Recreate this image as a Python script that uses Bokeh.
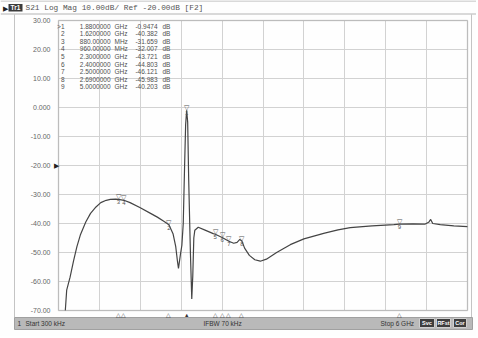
from bokeh.plotting import figure
from bokeh.models import Range1d, FixedTicker, Grid, BoxAnnotation, ColumnDataSource
from bokeh.embed import file_html
from bokeh.resources import INLINE
from bokeh.core.properties import value

# ---------------- data ----------------
freq_ghz = [0.10, 0.12, 0.17, 0.22, 0.27, 0.32, 0.40, 0.47, 0.55, 0.62, 0.70, 0.76, 0.84,
            0.88, 0.96, 1.05, 1.20, 1.35, 1.45, 1.55, 1.62, 1.68, 1.72, 1.745, 1.76, 1.79,
            1.81, 1.83, 1.85, 1.865, 1.88, 1.895, 1.91, 1.935, 1.955, 1.97, 1.985, 2.00,
            2.05, 2.15, 2.27, 2.30, 2.40, 2.50, 2.57, 2.62, 2.66, 2.69, 2.73, 2.80, 2.88,
            2.96, 3.05, 3.20, 3.40, 3.60, 3.89, 4.10, 4.28, 4.60, 4.92, 5.00, 5.20, 5.38,
            5.43, 5.46, 5.49, 5.60, 5.80, 6.00]
s21_db = [-70.0, -63.0, -58.5, -53.0, -48.0, -44.0, -39.5, -36.5, -34.3, -32.8, -32.0, -31.7, -31.6,
          -31.66, -32.0, -32.8, -34.6, -36.5, -37.8, -39.3, -40.4, -43.5, -48.0, -53.0, -55.5, -50.5,
          -47.5, -40.0, -20.0, -6.0, -0.95, -5.0, -25.0, -50.0, -66.0, -58.0, -45.0, -42.3,
          -41.3, -42.3, -43.5, -43.7, -44.8, -46.1, -46.8, -46.5, -45.5, -46.0, -48.5, -51.0, -52.5,
          -53.0, -52.3, -50.0, -47.3, -45.3, -43.4, -42.2, -41.4, -40.8, -40.4, -40.2, -40.1, -40.2,
          -39.6, -38.6, -40.0, -40.4, -40.8, -41.1]

marker_ids = ["1", "2", "3", "4", "5", "6", "7", "8", "9"]
marker_freq_ghz = [1.88, 1.62, 0.88, 0.96, 2.30, 2.40, 2.50, 2.69, 5.00]
marker_db = [-0.9474, -40.382, -31.659, -32.007, -43.721, -44.803, -46.121, -45.983, -40.203]
marker_freq_text = ["1.8800000", "1.6200000", "880.00000", "960.00000", "2.3000000",
                    "2.4000000", "2.5000000", "2.6900000", "5.0000000"]
marker_unit = ["GHz", "GHz", "MHz", "MHz", "GHz", "GHz", "GHz", "GHz", "GHz"]
marker_val_text = ["-0.9474", "-40.382", "-31.659", "-32.007", "-43.721",
                   "-44.803", "-46.121", "-45.983", "-40.203"]

x_min, x_max = 0.0, 6.0          # GHz (Start 300 kHz .. Stop 6 GHz)
y_min, y_max = -70.0, 30.0       # dB
y_ticks = [30, 20, 10, 0, -10, -20, -30, -40, -50, -60, -70]
y_tick_labels = ["30.00", "20.00", "10.00", "0.000", "-10.00", "-20.00",
                 "-30.00", "-40.00", "-50.00", "-60.00", "-70.00"]
x_grid = [0.0, 0.6, 1.2, 1.8, 2.4, 3.0, 3.6, 4.2, 4.8, 5.4, 6.0]
ref_level = -20

trace_name = "Tr1"
title_text = "S21 Log Mag 10.00dB/ Ref -20.00dB [F2]"
channel_text = "1"
start_text = "Start 300 kHz"
ifbw_text = "IFBW 70 kHz"
stop_text = "Stop 6 GHz"
status_boxes = ["Svc", "RFst", "Cor"]

# ---------------- page geometry (pixels) ----------------
W, H = 476, 336
PLOT_L, PLOT_R, PLOT_T, PLOT_B = 58, 467, 20, 310
px_per_x = (PLOT_R - PLOT_L) / (x_max - x_min)
px_per_y = (PLOT_B - PLOT_T) / (y_max - y_min)


def gx(px):
    return x_min + (px - PLOT_L) / px_per_x


def gy(py):
    return y_max - (py - PLOT_T) / px_per_y


p = figure(width=W, height=H, x_range=Range1d(gx(0), gx(W)), y_range=Range1d(gy(H), gy(0)),
           output_backend="svg", toolbar_location=None,
           x_axis_location=None, y_axis_location=None,
           min_border_left=0, min_border_right=0, min_border_top=0, min_border_bottom=0)
p.title.visible = False
p.grid.visible = False
p.outline_line_color = None
p.background_fill_color = "#fefefe"
p.border_fill_color = "#fefefe"

# display-area frame
p.segment(x0=[gx(14), gx(471)], y0=[gy(14), gy(14)], x1=[gx(14), gx(471)], y1=[gy(317), gy(317)],
          line_color="#c4c4c4", line_width=1)

# grid limited to the measurement area
p.add_layout(Grid(dimension=0, ticker=FixedTicker(ticks=x_grid), bounds=(x_min, x_max),
                  cross_bounds=(y_min, y_max), grid_line_color="#d2d2d2", grid_line_width=1))
p.add_layout(Grid(dimension=1, ticker=FixedTicker(ticks=y_ticks), bounds=(y_min, y_max),
                  cross_bounds=(x_min, x_max), grid_line_color="#d2d2d2", grid_line_width=1))
p.add_layout(BoxAnnotation(left=x_min, right=x_max, bottom=y_min, top=y_max,
                           fill_alpha=0, line_color="#8c8c8c", line_width=1.5))

# y tick labels and reference-level arrow
p.text(x=[gx(50)] * len(y_ticks), y=y_ticks, text=y_tick_labels, text_align="right",
       text_baseline="middle", text_font=value("Liberation Sans"), text_font_size="7px",
       text_color="#666666")
p.text(x=[gx(55.5)], y=[ref_level], text=["▶"], text_align="center", text_baseline="middle",
       text_font_size="7px", text_color="#222222")

# trace
p.line(freq_ghz, s21_db, line_color="#444444", line_width=1.2)

# marker flags
msrc = ColumnDataSource(dict(x=marker_freq_ghz, y=marker_db, ids=marker_ids,
                             tri=["▽"] * len(marker_ids)))
p.text(x="x", y="y", text="tri", source=msrc, text_font_size="7px", text_color="#555555",
       text_align="center", text_baseline="bottom", y_offset=1)
p.text(x="x", y="y", text="ids", source=msrc, text_font_size="6px", text_color="#555555",
       text_align="center", text_baseline="top", y_offset=1, text_font=value("Liberation Sans"))

# marker table
row_y = [gy(25.7 + 7.58 * i) for i in range(len(marker_ids))]
tsrc = ColumnDataSource(dict(
    y=row_y,
    idtxt=[(">" if i == 0 else "") + m for i, m in enumerate(marker_ids)],
    ftxt=marker_freq_text, utxt=marker_unit, vtxt=marker_val_text,
    dtxt=["dB"] * len(marker_ids)))
common = dict(source=tsrc, text_font_size="6.5px", text_color="#505050",
              text_baseline="middle", text_font=value("Liberation Sans"))
p.text(x=gx(64), y="y", text="idtxt", text_align="right", **common)
p.text(x=gx(110), y="y", text="ftxt", text_align="right", **common)
p.text(x=gx(114), y="y", text="utxt", text_align="left", **common)
p.text(x=gx(157), y="y", text="vtxt", text_align="right", **common)
p.text(x=gx(162), y="y", text="dtxt", text_align="left", **common)

# ---------------- title bar ----------------
p.segment(x0=[gx(0), gx(0)], y0=[gy(0.5), gy(13.5)], x1=[gx(W), gx(W)], y1=[gy(0.5), gy(13.5)],
          line_color="#b4b4b4", line_width=1)
p.text(x=[gx(2)], y=[gy(7.5)], text=["▶"], text_font_size="7px", text_color="#222222",
       text_baseline="middle")
p.quad(left=[gx(8)], right=[gx(22)], bottom=[gy(11)], top=[gy(3.5)], fill_color="#3c3c3c",
       line_color=None)
p.text(x=[gx(15)], y=[gy(7.3)], text=[trace_name], text_font_size="6.5px", text_color="white",
       text_font=value("Liberation Sans"), text_font_style="bold", text_align="center",
       text_baseline="middle")
p.text(x=[gx(25)], y=[gy(7.3)], text=[title_text], text_font_size="7.8px", text_color="#555555",
       text_font=value("Liberation Mono"), text_baseline="middle")

# ---------------- status bar ----------------
p.quad(left=[gx(14)], right=[gx(472)], bottom=[gy(329)], top=[gy(317)], fill_color="#b9b9b9",
       line_color="#a0a0a0", line_width=1)
bsrc = ColumnDataSource(dict(x=marker_freq_ghz, y=[gy(311)] * len(marker_ids),
                             s=["▲" if i == 0 else "△" for i in range(len(marker_ids))]))
p.text(x="x", y="y", text="s", source=bsrc, text_font_size="5.5px", text_color="#333333",
       text_align="center", text_baseline="top")
st = dict(text_font_size="6.5px", text_color="#333333", text_font=value("Liberation Sans"),
          text_baseline="middle")
p.text(x=[gx(17)], y=[gy(323)], text=[channel_text], **st)
p.text(x=[gx(25)], y=[gy(323)], text=[start_text], **st)
p.text(x=[gx(203)], y=[gy(323)], text=[ifbw_text], **st)
p.text(x=[gx(380)], y=[gy(323)], text=[stop_text], **st)
box_cx = [426.5, 443, 459.5]
box_w = [15, 14, 13]
p.quad(left=[gx(c - w / 2) for c, w in zip(box_cx, box_w)],
       right=[gx(c + w / 2) for c, w in zip(box_cx, box_w)],
       bottom=[gy(327)] * 3, top=[gy(318)] * 3, fill_color="#3e3e3e", line_color="#d0d0d0")
p.text(x=[gx(c) for c in box_cx], y=[gy(322.5)] * 3, text=status_boxes, text_font_size="5.5px",
       text_color="white", text_font=value("Liberation Sans"), text_font_style="bold",
       text_align="center", text_baseline="middle")

open("out.html", "w").write(file_html(p, INLINE))
